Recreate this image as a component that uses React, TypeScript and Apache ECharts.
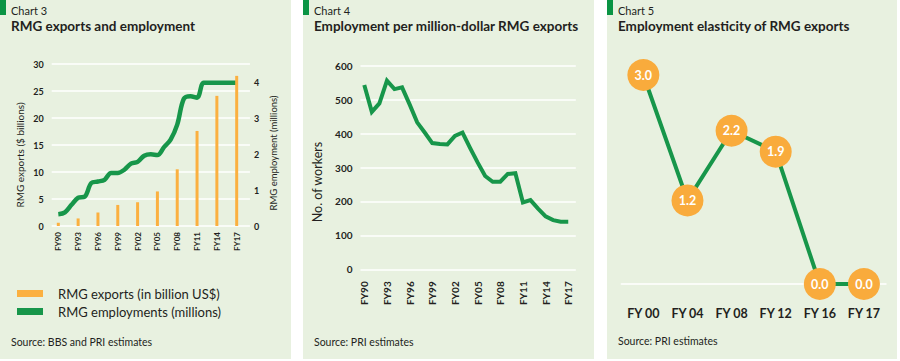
import React, { useEffect, useRef } from "react";
import * as echarts from "echarts";

// ---------- Data ----------
const years = [
  1990, 1991, 1992, 1993, 1994, 1995, 1996, 1997, 1998, 1999, 2000, 2001, 2002, 2003,
  2004, 2005, 2006, 2007, 2008, 2009, 2010, 2011, 2012, 2013, 2014, 2015, 2016, 2017,
];
// Chart 3: RMG exports (billion US$), every third year
const exportYears = [1990, 1993, 1996, 1999, 2002, 2005, 2008, 2011, 2014, 2017];
const exportValues = [0.6, 1.4, 2.5, 3.9, 4.4, 6.4, 10.5, 17.6, 24.1, 27.8];
// Chart 3: RMG employment (millions), yearly
const employmentValues = [
  0.33, 0.38, 0.59, 0.79, 0.82, 1.2, 1.24, 1.29, 1.48, 1.48, 1.57, 1.74, 1.79, 1.96,
  2.0, 1.98, 2.2, 2.41, 2.83, 3.55, 3.62, 3.58, 4.0, 4.0, 4.0, 4.0, 4.0, 4.0,
];
// Chart 4: workers per million-dollar exports, yearly
const workersValues = [
  543, 464, 489, 556, 531, 536, 486, 433, 403, 372, 369, 368, 393, 403,
  358, 315, 275, 258, 258, 281, 283, 197, 204, 179, 156, 145, 140, 140,
];
// Chart 5: employment elasticity
const elasticityCategories = ["FY 00", "FY 04", "FY 08", "FY 12", "FY 16", "FY 17"];
const elasticityValues = [3.0, 1.2, 2.2, 1.9, 0.0, 0.0];

const chartNumbers = ["Chart 3", "Chart 4", "Chart 5"];
const chartTitles = [
  "RMG exports and employment",
  "Employment per million-dollar RMG exports",
  "Employment elasticity of RMG exports",
];
const sources = ["Source: BBS and PRI estimates", "Source: PRI estimates", "Source: PRI estimates"];
const seriesNames = ["RMG exports (in billion US$)", "RMG employments (millions)"];
const axisNames = ["RMG exports ($ billions)", "RMG employment (millions)", "No. of workers"];

// ---------- Styles ----------
const FONT = "Lato, 'Open Sans', sans-serif";
const BG = "#e8f1e0";
const GREEN = "#17964a";
const MARK = "#0a9444";
const ORANGE = "#fbb040";
const TEXT = "#231f20";

const panels = [
  { x: 0, w: 291 },
  { x: 303, w: 291 },
  { x: 607, w: 290 },
];

function fyLabel(step: number) {
  return (v: number) => {
    const r = Math.round(v);
    if (Math.abs(v - r) > 1e-6) return "";
    if (r < 1990 || r > 2017 || (r - 1990) % step !== 0) return "";
    return "FY" + String(r % 100).padStart(2, "0");
  };
}

export default function App() {
  const ref = useRef<HTMLDivElement>(null);

  useEffect(() => {
    if (!ref.current) return;
    const chart = echarts.init(ref.current, undefined, { renderer: "svg" });

    const graphic: any[] = [];
    panels.forEach((p, i) => {
      graphic.push({
        type: "rect",
        z: -10,
        shape: { x: p.x, y: 0, width: p.w, height: 359 },
        style: { fill: BG },
        silent: true,
      });
      graphic.push({
        type: "rect",
        z: -5,
        shape: { x: p.x, y: 0, width: 6, height: 15 },
        style: { fill: MARK },
        silent: true,
      });
      graphic.push({
        type: "text",
        x: p.x + 11,
        y: 10,
        style: { text: chartNumbers[i], font: `11px ${FONT}`, fill: TEXT, verticalAlign: "middle" },
      });
      graphic.push({
        type: "text",
        x: p.x + 11,
        y: 26,
        style: { text: chartTitles[i], font: `bold 13.5px ${FONT}`, fill: TEXT, verticalAlign: "middle" },
      });
      graphic.push({
        type: "text",
        x: p.x + 11,
        y: i === 2 ? 341 : 342,
        style: { text: sources[i], font: `10.5px ${FONT}`, fill: TEXT, verticalAlign: "middle" },
      });
    });

    const axisLabelBase = { color: TEXT, fontFamily: FONT, fontWeight: "bold" as const };
    const splitWhite = { show: true, lineStyle: { color: "#ffffff", width: 1.5 } };

    const option: any = {
      animation: false,
      backgroundColor: "#ffffff",
      textStyle: { fontFamily: FONT },
      graphic,
      legend: {
        orient: "vertical",
        left: 12,
        top: 282,
        itemWidth: 26,
        itemHeight: 7,
        itemGap: 5,
        textStyle: { color: TEXT, fontSize: 13, fontFamily: FONT, padding: [0, 0, 0, 10] },
        data: [
          { name: seriesNames[0], icon: "rect" },
          { name: seriesNames[1], icon: "rect" },
        ],
      },
      grid: [
        { left: 51.7, top: 64, width: 198.2, height: 162 },
        { left: 360.5, top: 65.7, width: 215.3, height: 203.6 },
        { left: 621.3, top: 75, width: 264.7, height: 209 },
      ],
      xAxis: [
        {
          gridIndex: 0,
          type: "value",
          min: 1989,
          max: 2019,
          interval: 1,
          axisLine: { show: false },
          axisTick: { show: false },
          splitLine: { show: false },
          axisLabel: { ...axisLabelBase, fontSize: 8, rotate: 90, margin: 6, formatter: fyLabel(3) },
        },
        {
          gridIndex: 1,
          type: "value",
          min: 1989.5,
          max: 2018,
          interval: 0.5,
          axisLine: { show: false },
          axisTick: { show: false },
          splitLine: { show: false },
          axisLabel: { ...axisLabelBase, fontSize: 10, rotate: 90, margin: 12, formatter: fyLabel(3) },
        },
        {
          gridIndex: 2,
          type: "category",
          data: elasticityCategories,
          boundaryGap: true,
          axisLine: { show: true, lineStyle: { color: "#ffffff", width: 1.5 } },
          axisTick: { show: false },
          axisLabel: { ...axisLabelBase, fontSize: 12.5, margin: 23 },
        },
      ],
      yAxis: [
        {
          gridIndex: 0,
          type: "value",
          min: 0,
          max: 30,
          interval: 5,
          name: axisNames[0],
          nameLocation: "middle",
          nameRotate: 90,
          nameGap: 27,
          nameTextStyle: { color: TEXT, fontSize: 10, fontFamily: FONT, padding: [0, 20, 0, 0] },
          axisLine: { show: false },
          axisTick: { show: false },
          splitLine: splitWhite,
          axisLabel: { ...axisLabelBase, fontSize: 9, margin: 8 },
        },
        {
          gridIndex: 0,
          type: "value",
          position: "right",
          min: 0,
          max: 4.52,
          interval: 1,
          name: axisNames[1],
          nameLocation: "middle",
          nameRotate: 90,
          nameGap: 19,
          nameTextStyle: { color: TEXT, fontSize: 9.5, fontFamily: FONT, padding: [0, 16, 0, 0] },
          axisLine: { show: false },
          axisTick: { show: false },
          splitLine: { show: false },
          axisLabel: {
            ...axisLabelBase,
            fontSize: 9,
            margin: 4,
            formatter: (v: number) => (Math.abs(v - Math.round(v)) < 1e-6 ? String(Math.round(v)) : ""),
          },
        },
        {
          gridIndex: 1,
          type: "value",
          min: 0,
          max: 600,
          interval: 100,
          name: axisNames[2],
          nameLocation: "middle",
          nameRotate: 90,
          nameGap: 37,
          nameTextStyle: { color: TEXT, fontSize: 12.5, fontFamily: FONT, padding: [0, 29, 0, 0] },
          axisLine: { show: false },
          axisTick: { show: false },
          splitLine: splitWhite,
          axisLabel: { ...axisLabelBase, fontSize: 10, margin: 8 },
        },
        {
          gridIndex: 2,
          type: "value",
          min: 0,
          max: 3,
          show: false,
        },
      ],
      series: [
        {
          name: seriesNames[0],
          type: "bar",
          xAxisIndex: 0,
          yAxisIndex: 0,
          barWidth: 3,
          itemStyle: { color: ORANGE },
          data: exportYears.map((y, i) => [y, exportValues[i]]),
          z: 3,
        },
        {
          name: seriesNames[1],
          type: "line",
          xAxisIndex: 0,
          yAxisIndex: 1,
          smooth: 0.35,
          showSymbol: false,
          symbol: "none",
          itemStyle: { color: GREEN },
          lineStyle: { color: GREEN, width: 4.5 },
          data: years.map((y, i) => [y, employmentValues[i]]),
          z: 2,
        },
        {
          name: "workers",
          type: "line",
          xAxisIndex: 1,
          yAxisIndex: 2,
          showSymbol: false,
          symbol: "none",
          lineStyle: { color: GREEN, width: 4, join: "miter" },
          data: years.map((y, i) => [y, workersValues[i]]),
        },
        {
          name: "elasticity",
          type: "line",
          xAxisIndex: 2,
          yAxisIndex: 3,
          clip: false,
          symbol: "circle",
          symbolSize: 32,
          itemStyle: { color: "#f9ab3c" },
          lineStyle: { color: GREEN, width: 4 },
          label: {
            show: true,
            position: "inside",
            color: "#ffffff",
            fontWeight: "bold",
            fontSize: 12.5,
            fontFamily: FONT,
            formatter: (p: any) => Number(p.value).toFixed(1),
          },
          data: elasticityValues,
        },
      ],
    };

    chart.setOption(option);
    return () => chart.dispose();
  }, []);

  return (
    <div
      ref={ref}
      style={{ position: "absolute", left: 0, top: 0, width: 900, height: 361 }}
    />
  );
}
